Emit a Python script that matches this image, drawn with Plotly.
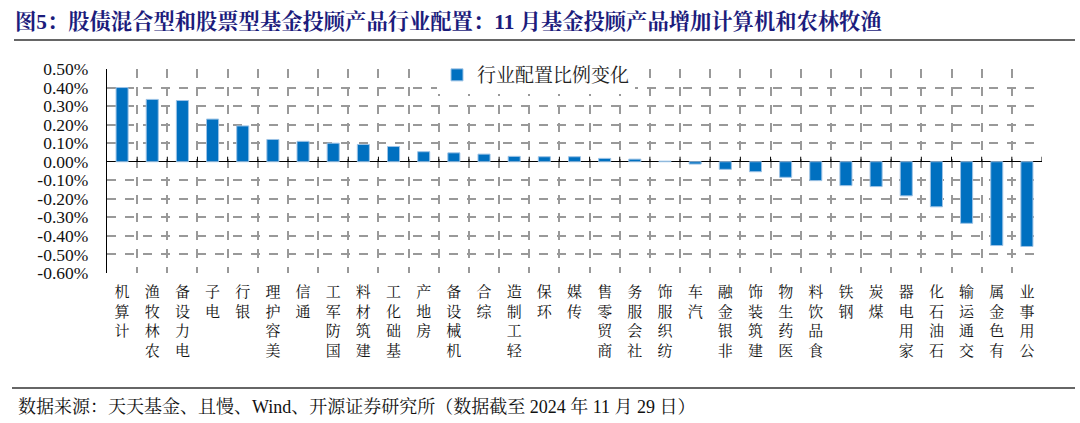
import plotly.graph_objects as go

categories = ["计算机", "农林牧渔", "电力设备", "电子", "银行", "美容护理", "通信", "国防军工",
              "建筑材料", "基础化工", "房地产", "机械设备", "综合", "轻工制造", "环保", "传媒",
              "商贸零售", "社会服务", "纺织服饰", "汽车", "非银金融", "建筑装饰", "医药生物",
              "食品饮料", "钢铁", "煤炭", "家用电器", "石油石化", "交通运输", "有色金属", "公用事业"]
values = [0.40, 0.336, 0.33, 0.23, 0.193, 0.12, 0.11, 0.10, 0.093, 0.082, 0.054, 0.048,
          0.041, 0.029, 0.027, 0.027, 0.018, 0.014, 0.003, -0.0125, -0.041, -0.054, -0.084,
          -0.102, -0.129, -0.134, -0.184, -0.243, -0.332, -0.452, -0.457]
y_ticks = [0.5, 0.4, 0.3, 0.2, 0.1, 0.0, -0.1, -0.2, -0.3, -0.4, -0.5, -0.6]
series_name = "行业配置比例变化"
title_text = "图5：股债混合型和股票型基金投顾产品行业配置：11 月基金投顾产品增加计算机和农林牧渔"
source_text = "数据来源：天天基金、且慢、Wind、开源证券研究所（数据截至 2024 年 11 月 29 日）"

W, H = 1080, 423
L, R, T, B = 107, 38, 69, 150
PW, PH = W - L - R, H - T - B
ymin, ymax = min(y_ticks), max(y_ticks)

SERIF = "Times New Roman, Liberation Serif, Noto Serif CJK SC, Noto Sans CJK SC"
GRID = "#999999"

def px_x(p):
    return (p - L) / PW

def px_y(p):
    return (H - B - p) / PH

ticktext = ["<br>".join(reversed(c)) for c in categories]
n = len(categories)

fig = go.Figure()
fig.add_trace(go.Bar(
    x=categories, y=values, name=series_name,
    marker=dict(color="#0070C0", line=dict(color="#9DC3E6", width=1)),
))

# small tick marks on the zero line at category boundaries
zero_ticks = [dict(type="line", xref="x", yref="y", x0=i - 0.5, x1=i - 0.5,
                   y0=0, y1=(ymax - ymin) * 5 / PH, line=dict(color="black", width=1))
              for i in range(1, n + 1)]

fig.update_layout(
    width=W, height=H,
    margin=dict(l=L, r=R, t=T, b=B),
    paper_bgcolor="white", plot_bgcolor="white",
    bargap=0.6,
    showlegend=True,
    legend=dict(x=px_x(437), y=px_y(75), xanchor="left", yanchor="middle",
                bgcolor="white", font=dict(family=SERIF, size=19, color="#222"),
                itemwidth=30, tracegroupgap=0),
    title=dict(text="<b>" + title_text + "</b>", xref="container", yref="container",
               x=15 / W, y=1 - 22 / H, xanchor="left", yanchor="middle",
               font=dict(family=SERIF, size=21.3, color="#1C1C7C")),
    xaxis=dict(type="category", categoryorder="array", categoryarray=categories,
               tickson="boundaries",
               tickmode="array", tickvals=categories, ticktext=ticktext,
               showgrid=True, gridcolor=GRID, gridwidth=1.5, griddash="dash",
               showline=False, ticks="", ticklabelstandoff=8,
               tickfont=dict(family=SERIF, size=15, color="#111"),
               range=[-0.5, n - 0.5]),
    yaxis=dict(range=[ymin, ymax], tickmode="array", tickvals=y_ticks,
               ticktext=[f"{v:.2f}%" for v in y_ticks],
               showgrid=True, gridcolor=GRID, gridwidth=1.5, griddash="dash",
               zeroline=True, zerolinecolor="black", zerolinewidth=1.3,
               showline=True, linecolor="black", linewidth=1.3,
               ticks="", ticklabelstandoff=14,
               tickfont=dict(family=SERIF, size=17.5, color="#111")),
    shapes=zero_ticks + [
        dict(type="line", xref="paper", yref="paper", x0=px_x(14), x1=px_x(1075),
             y0=px_y(40), y1=px_y(40), line=dict(color="#333", width=1.5)),
        dict(type="line", xref="paper", yref="paper", x0=px_x(12), x1=px_x(1075),
             y0=px_y(388), y1=px_y(388), line=dict(color="#333", width=1.5)),
    ],
    annotations=[
        dict(text=source_text, xref="paper", yref="paper", x=px_x(16), y=px_y(406),
             xanchor="left", yanchor="middle", showarrow=False,
             font=dict(family=SERIF, size=18, color="#111")),
    ],
)

fig.write_html("out.html")
